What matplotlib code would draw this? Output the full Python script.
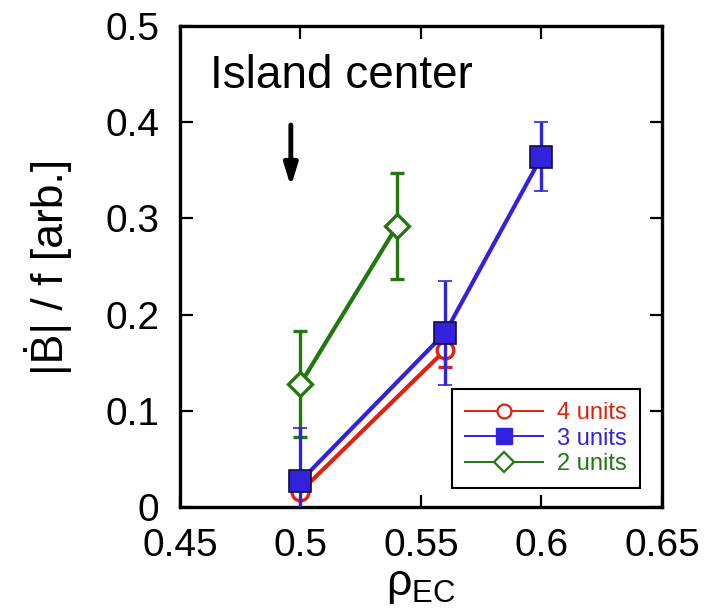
import matplotlib
matplotlib.use("Agg")
import matplotlib.pyplot as plt
from matplotlib.lines import Line2D

plt.rcParams['font.family'] = ['Liberation Sans', 'DejaVu Sans']
plt.rcParams['mathtext.fontset'] = 'custom'
plt.rcParams['mathtext.rm'] = 'Liberation Sans'
plt.rcParams['mathtext.it'] = 'Liberation Sans:italic'

# data
x4 = [0.50, 0.56]
y4 = [0.016, 0.163]
e4 = [0.004, 0.018]

x3 = [0.50, 0.56, 0.60]
y3 = [0.027, 0.181, 0.364]
e3 = [0.055, 0.054, 0.036]

x2 = [0.50, 0.54]
y2 = [0.128, 0.292]
e2 = [0.055, 0.055]

xticks = [0.45, 0.5, 0.55, 0.6, 0.65]
xticklabels = ['0.45', '0.5', '0.55', '0.6', '0.65']
yticks = [0, 0.1, 0.2, 0.3, 0.4, 0.5]
yticklabels = ['0', '0.1', '0.2', '0.3', '0.4', '0.5']

red = '#dd2211'
blue = '#3322dd'
green = '#227711'

fig = plt.figure(figsize=(7.19, 6.14), dpi=100)
ax = fig.add_axes([0.2503, 0.1743, 0.6704, 0.7834])

lw = 3.0
elw = 2.4
cs = 4.7

ax.errorbar(x2, y2, yerr=e2, color=green, lw=lw, elinewidth=elw, capsize=cs, capthick=elw,
            marker='D', ms=12, mfc='white', mec=green, mew=2.4, zorder=3)
ax.errorbar(x4, y4, yerr=e4, color=red, lw=lw, elinewidth=elw, capsize=cs, capthick=elw,
            marker='o', ms=12, mfc='white', mec=red, mew=2.4, zorder=4)
ax.errorbar(x3, y3, yerr=e3, color=blue, lw=lw, elinewidth=elw, capsize=cs, capthick=elw,
            marker='s', ms=16, mfc=blue, mec='#111133', mew=1.2, zorder=5)

ax.set_xlim(0.45, 0.65)
ax.set_ylim(0, 0.5)
ax.set_xticks(xticks)
ax.set_xticklabels(xticklabels, fontsize=28)
ax.set_yticks(yticks)
ax.set_yticklabels(yticklabels, fontsize=28)
ax.tick_params(direction='in', length=9, width=1.6, top=True, right=True)
ax.tick_params(axis='x', pad=15)
ax.tick_params(axis='y', pad=15)
for s in ax.spines.values():
    s.set_linewidth(2.4)

ax.set_xlabel(r'$\mathrm{\rho}_{\mathrm{EC}}$', fontsize=32)
ax.xaxis.set_label_coords(0.5, -0.12)
ax.set_ylabel('|Ḃ| / f [arb.]', fontsize=32)
ax.yaxis.set_label_coords(-0.224, 0.5)

ax.text(0.4625, 0.448, 'Island center', fontsize=33, va='center', ha='left')
ax.annotate('', xy=(0.496, 0.333), xytext=(0.496, 0.397),
            arrowprops=dict(arrowstyle='-|>,head_width=0.4,head_length=1.3', color='black', lw=3.5,
                            shrinkA=0, shrinkB=0))

handles = [
    Line2D([], [], color=red, lw=1.4, marker='o', ms=10, mfc='white', mec=red, mew=1.6),
    Line2D([], [], color=blue, lw=1.4, marker='s', ms=12, mfc=blue, mec=blue),
    Line2D([], [], color=green, lw=1.4, marker='D', ms=10, mfc='white', mec=green, mew=1.6),
]
leg = ax.legend(handles, ['4 units', '3 units', '2 units'], loc='upper left',
                bbox_to_anchor=(0.564, 0.245), borderaxespad=0, fontsize=17,
                fancybox=False, edgecolor='black', framealpha=1, handlelength=3.3,
                labelspacing=0.15, borderpad=0.55, handletextpad=0.6)
leg.get_frame().set_linewidth(1.5)
for t, c in zip(leg.get_texts(), [red, blue, green]):
    t.set_color(c)

fig.savefig('out.png', dpi=100)
